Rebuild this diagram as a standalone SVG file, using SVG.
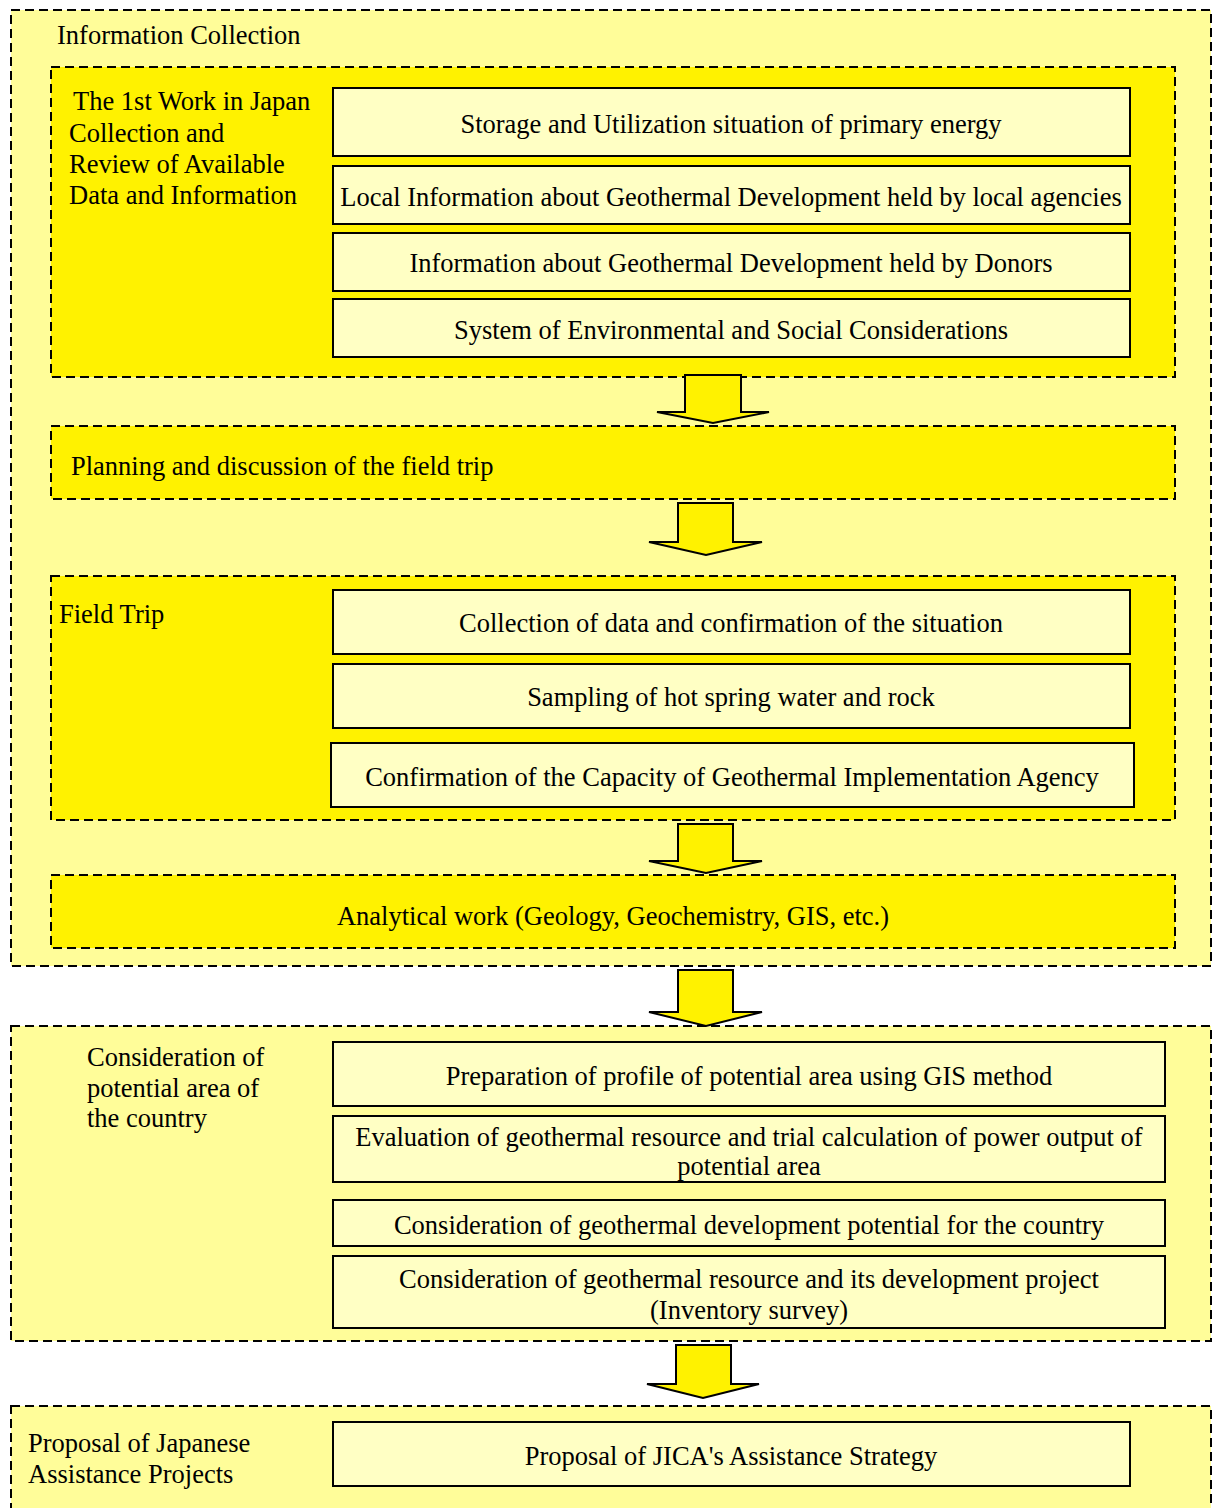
<svg xmlns="http://www.w3.org/2000/svg" width="1212" height="1508" viewBox="0 0 1212 1508" font-family="'Liberation Serif', 'Times New Roman', serif">
  <style>
    .outer { fill: #FFFD99; stroke: #000; stroke-width: 2; stroke-dasharray: 9 5; }
    .inner { fill: #FFF200; stroke: #000; stroke-width: 2; stroke-dasharray: 9 5; }
    .box { fill: #FFFFC4; stroke: #000; stroke-width: 2; }
    .arrow { fill: #FFF200; stroke: #000; stroke-width: 2; stroke-linejoin: miter; }
    text { font-family: 'Liberation Serif', 'Times New Roman', serif; font-size: 26.5px; fill: #000; }
    .c { text-anchor: middle; }
  </style>
  <rect width="1212" height="1508" fill="#fff"/>

  <!-- Stage 1: information collection -->
  <g id="info-collection">
    <rect class="outer" x="11" y="10" width="1200" height="956"/>
    <text x="57" y="44">Information Collection</text>
  </g>

  <g id="first-work">
    <rect class="inner" x="51" y="67" width="1124" height="310"/>
    <text x="73" y="110">The 1st Work in Japan</text>
    <text x="69" y="142">Collection and</text>
    <text x="69" y="173">Review of Available</text>
    <text x="69" y="204">Data and Information</text>
  </g>
  <g id="primary-energy">
    <rect class="box" x="333" y="88" width="797" height="68"/>
    <text class="c" x="731" y="133">Storage and Utilization situation of primary energy</text>
  </g>
  <g id="local-info">
    <rect class="box" x="333" y="166" width="797" height="58"/>
    <text class="c" x="731" y="206">Local Information about Geothermal Development held by local agencies</text>
  </g>
  <g id="donor-info">
    <rect class="box" x="333" y="233" width="797" height="58"/>
    <text class="c" x="731" y="272">Information about Geothermal Development held by Donors</text>
  </g>
  <g id="env-social">
    <rect class="box" x="333" y="299" width="797" height="58"/>
    <text class="c" x="731" y="339">System of Environmental and Social Considerations</text>
  </g>

  <g id="planning">
    <rect class="inner" x="51" y="426" width="1124" height="73"/>
    <text x="71" y="475">Planning and discussion of the field trip</text>
  </g>

  <g id="field-trip">
    <rect class="inner" x="51" y="576" width="1124" height="244"/>
    <text x="59" y="623">Field Trip</text>
  </g>
  <g id="data-collection">
    <rect class="box" x="333" y="590" width="797" height="64"/>
    <text class="c" x="731" y="632">Collection of data and confirmation of the situation</text>
  </g>
  <g id="sampling">
    <rect class="box" x="333" y="664" width="797" height="64"/>
    <text class="c" x="731" y="706">Sampling of hot spring water and rock</text>
  </g>
  <g id="capacity">
    <rect class="box" x="331" y="743" width="803" height="64"/>
    <text class="c" x="732" y="786">Confirmation of the Capacity of Geothermal Implementation Agency</text>
  </g>

  <g id="analytical">
    <rect class="inner" x="51" y="875" width="1124" height="73"/>
    <text class="c" x="613" y="925">Analytical work (Geology, Geochemistry, GIS, etc.)</text>
  </g>

  <!-- Stage 2: consideration of potential area -->
  <g id="consideration">
    <rect class="outer" x="11" y="1026" width="1200" height="315"/>
    <text x="87" y="1066">Consideration of</text>
    <text x="87" y="1097">potential area of</text>
    <text x="87" y="1127">the country</text>
  </g>
  <g id="gis-profile">
    <rect class="box" x="333" y="1042" width="832" height="64"/>
    <text class="c" x="749" y="1085">Preparation of profile of potential area using GIS method</text>
  </g>
  <g id="evaluation">
    <rect class="box" x="333" y="1116" width="832" height="66"/>
    <text class="c" x="749" y="1146">Evaluation of geothermal resource and trial calculation of power output of</text>
    <text class="c" x="749" y="1175">potential area</text>
  </g>
  <g id="dev-potential">
    <rect class="box" x="333" y="1200" width="832" height="46"/>
    <text class="c" x="749" y="1234">Consideration of geothermal development potential for the country</text>
  </g>
  <g id="inventory">
    <rect class="box" x="333" y="1256" width="832" height="72"/>
    <text class="c" x="749" y="1288">Consideration of geothermal resource and its development project</text>
    <text class="c" x="749" y="1319">(Inventory survey)</text>
  </g>

  <!-- Stage 3: proposal -->
  <g id="proposal">
    <rect class="outer" x="11" y="1406" width="1200" height="120"/>
    <text x="28" y="1452">Proposal of Japanese</text>
    <text x="28" y="1483">Assistance Projects</text>
  </g>
  <g id="jica-strategy">
    <rect class="box" x="333" y="1422" width="797" height="64"/>
    <text class="c" x="731" y="1465">Proposal of JICA's Assistance Strategy</text>
  </g>

  <!-- Block arrows between stages -->
  <g id="connectors">
    <path class="arrow" d="M685 375 H741 V412 H769 L713 423 L657 412 H685 Z"/>
    <path class="arrow" d="M678 503 H733 V542 H762 L706 555 L649 542 H678 Z"/>
    <path class="arrow" d="M678 824 H733 V861 H762 L706 873 L649 861 H678 Z"/>
    <path class="arrow" d="M678 970 H733 V1012 H762 L706 1026 L649 1012 H678 Z"/>
    <path class="arrow" d="M676 1345 H731 V1384 H759 L703 1398 L647 1384 H676 Z"/>
  </g>
</svg>
